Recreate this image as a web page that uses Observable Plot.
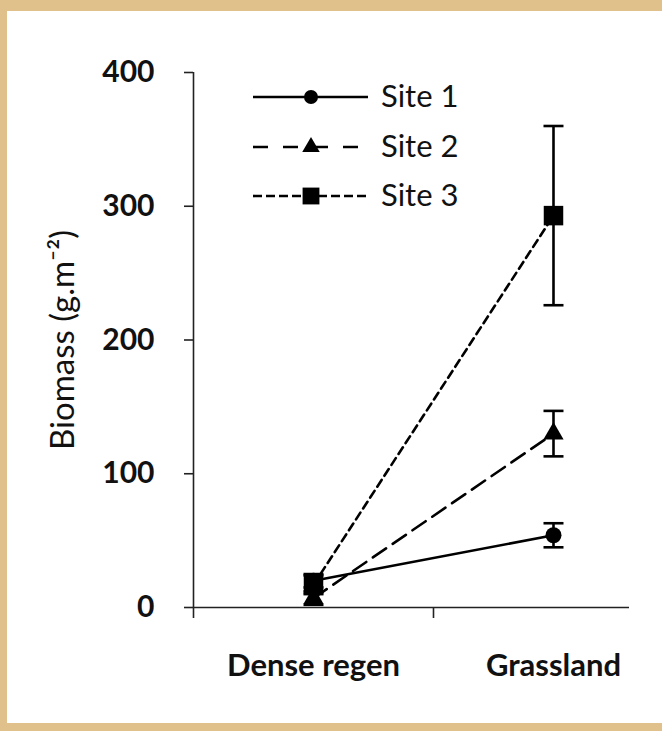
<!DOCTYPE html>
<html><head><meta charset="utf-8">
<script src="https://cdn.jsdelivr.net/npm/d3@7"></script>
<script src="https://cdn.jsdelivr.net/npm/@observablehq/plot@0.6"></script>
<style>
html,body{margin:0;padding:0;background:#e0c08b;width:662px;height:731px;overflow:hidden;}
#panel{position:absolute;left:7px;top:11px;width:655px;height:712px;background:#fff;overflow:visible;}
#panel svg{overflow:visible;}
#legend{position:absolute;left:0;top:0;}
</style></head><body><div id="panel"></div>
<script>
const categories = ["Dense regen", "Grassland"];
const sites = ["Site 1", "Site 2", "Site 3"];
const site1Mean = [20, 54];
const site1Err = [5, 9];
const site2Mean = [7, 130];
const site2Err = [5, 17];
const site3Mean = [17, 293];
const site3Err = [7, 67];
const yTicks = [0, 100, 200, 300, 400];
const yLabel = "Biomass (g.m\u207B\u00B2)";

const siteSymbols = ["circle", "triangle", "square"];
const siteR = [8, 7.5, 11];
const plotDash = [null, "16,8", "8,5"];
const legendDash = [null, "15,15", "9,4"];

const meansBySite = [site1Mean, site2Mean, site3Mean];
const errsBySite = [site1Err, site2Err, site3Err];
const rows = [];
sites.forEach((s, si) => categories.forEach((c, ci) => {
  const m = meansBySite[si][ci], e = errsBySite[si][ci];
  rows.push({site: s, si, cat: c, x: ci + 0.5, mean: m, lo: m - e, hi: m + e});
}));

const capSymbol = {draw(ctx, size) { const h = Math.sqrt(size / Math.PI); ctx.moveTo(-h, 0); ctx.lineTo(h, 0); }};
const font = "Lato, 'Open Sans', sans-serif";
const W = 655, H = 712;

const marks = [
  Plot.ruleY([0], {stroke: "#222", strokeWidth: 1.6}),
  Plot.ruleX([0], {stroke: "#222", strokeWidth: 1.6}),
  Plot.axisY({ticks: yTicks, tickSize: 9, tickPadding: 30, fontSize: 30, fontWeight: "bold", fontFamily: font, fill: "#111", stroke: "#222", strokeWidth: 1.6, label: null}),
  Plot.axisX({ticks: [0, 1], tickSize: 11, tickFormat: () => "", stroke: "#222", strokeWidth: 1.6, label: null}),
  ...sites.map((s, si) => Plot.line(rows.filter(d => d.si === si), {x: "x", y: "mean", stroke: "black", strokeWidth: 2.6, strokeDasharray: plotDash[si]})),
  Plot.ruleX(rows, {x: "x", y1: "lo", y2: "hi", stroke: "black", strokeWidth: 2.6}),
  Plot.dot(rows, {x: "x", y: "lo", symbol: capSymbol, r: 10, fill: "none", stroke: "black", strokeWidth: 2.6}),
  Plot.dot(rows, {x: "x", y: "hi", symbol: capSymbol, r: 10, fill: "none", stroke: "black", strokeWidth: 2.6}),
  ...sites.map((s, si) => Plot.dot(rows.filter(d => d.si === si), {x: "x", y: "mean", symbol: siteSymbols[si], r: siteR[si], fill: "black", stroke: "none"})),
  Plot.text(categories, {x: (d, i) => i + 0.5, y: () => 0, text: d => d, dy: 68, lineAnchor: "bottom", fontSize: 31, fontWeight: "bold", fontFamily: font, fill: "#111"}),
  Plot.text([yLabel], {frameAnchor: "left", textAnchor: "middle", rotate: -90, dx: -130, text: d => d, fontSize: 33, fontFamily: font, fill: "#111"})
];

const chart = Plot.plot({
  width: W, height: H,
  marginLeft: 186, marginRight: 33, marginTop: 61, marginBottom: 116,
  x: {domain: [0, 1.8167]},
  y: {domain: [0, 400]},
  style: {fontFamily: font, background: "transparent", overflow: "visible"},
  marks
});
document.getElementById("panel").appendChild(chart);

// legend
const lg = d3.select("#panel").append("svg").attr("id", "legend").attr("width", W).attr("height", H)
  .style("pointer-events", "none");
const rowY = [86, 136, 185];
sites.forEach((s, si) => {
  const g = lg.append("g").attr("transform", `translate(0,${rowY[si]})`);
  g.append("line").attr("x1", 246).attr("x2", 361).attr("y1", 0).attr("y2", 0)
    .attr("stroke", "black").attr("stroke-width", 2.6)
    .attr("stroke-dasharray", legendDash[si]);
  const sym = {circle: d3.symbolCircle, triangle: d3.symbolTriangle, square: d3.symbolSquare}[siteSymbols[si]];
  const size = [7, 6.5, 9.5][si];
  g.append("path").attr("transform", "translate(304,0)")
    .attr("d", d3.symbol(sym, size * size * Math.PI)()).attr("fill", "black");
  g.append("text").attr("x", 374).attr("y", 10).text(s)
    .attr("font-family", font).attr("font-size", 31).attr("fill", "#111");
});
</script></body></html>
